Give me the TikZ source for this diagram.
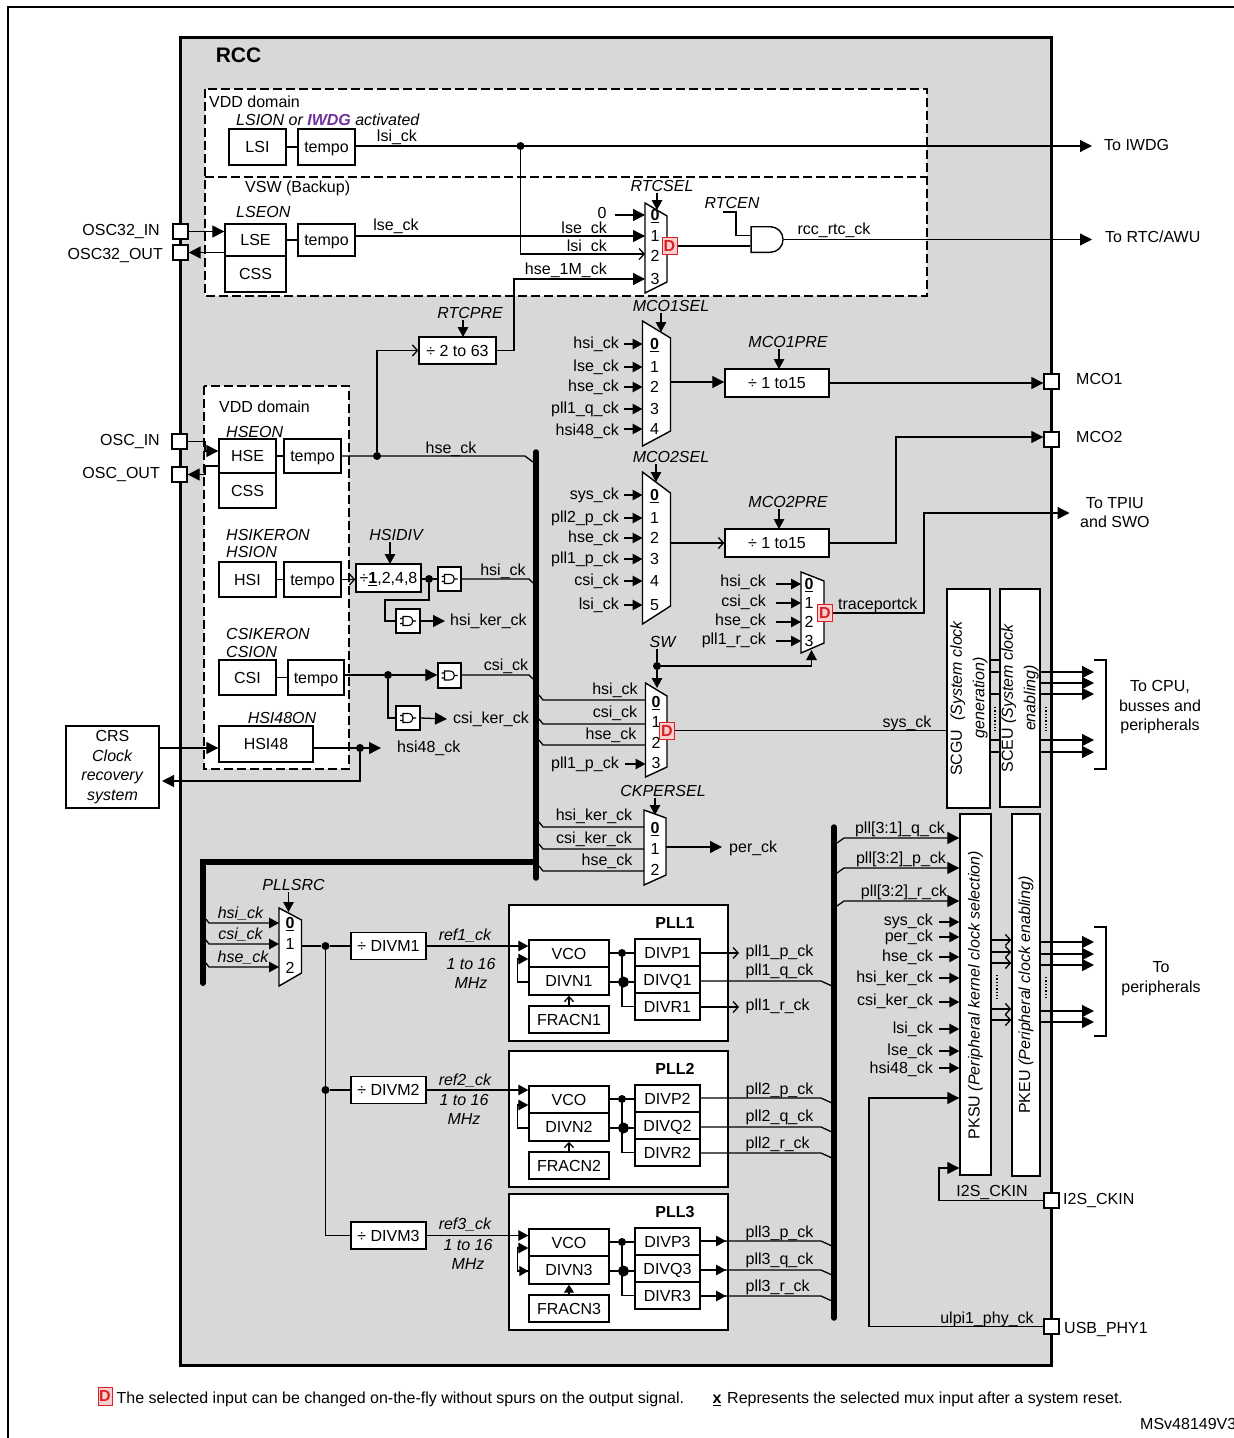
\documentclass[tikz,border=0pt]{standalone}
\usepackage{fontspec}
\setmainfont{Liberation Sans}
\usetikzlibrary{arrows.meta,shapes.gates.logic.US}
\definecolor{rccgray}{HTML}{D8D8D8}
\definecolor{iwdgpurple}{HTML}{7030A0}
\definecolor{dred}{HTML}{D92027}
\definecolor{dpink}{HTML}{F8CFCF}
\newcommand{\lblfont}{\fontsize{16}{19.5}\selectfont}
\tikzset{
	wire/.style={line width=1.3pt},
	arr/.style={wire,-{Triangle[length=12pt,width=12pt]}},
	arrs/.style={wire,-{Triangle[length=10pt,width=10.5pt]}},
	barb/.style={wire,-{Straight Barb[length=5pt,width=11pt]}},
	lbl/.style={inner sep=0pt,font=\lblfont,text height=12.5pt,text depth=1.5pt},
	sel/.style={lbl,font=\lblfont\itshape},
	txt/.style={inner sep=0pt,font=\lblfont,align=center},
	blk/.style={draw,fill=white,line width=1.4pt,inner sep=0pt,font=\lblfont,text height=12.5pt,text depth=1.5pt},
	muxline/.style={draw,fill=white,line width=1.4pt},
	hold/.style={inner sep=0pt,outer sep=0pt},
	dot/.style={circle,fill=black,inner sep=0pt,minimum size=8pt},
	bigdot/.style={circle,fill=black,inner sep=0pt,minimum size=11pt},
	vddbox/.style={fill=white,line width=1.4pt,draw,dash pattern=on 9pt off 4pt},
	bus/.style={line width=5.5pt,line cap=round},
	dmark/.style={draw=dred,fill=dpink,text=dred,line width=1pt,inner sep=0pt,minimum width=15pt,minimum height=17pt,font=\lblfont\bfseries},
}
\newcommand{\blk}[6]{%
	\pgfmathsetmacro\blkw{(#4)-(#2)}\pgfmathsetmacro\blkh{(#5)-(#3)}%
	\node[blk,minimum width=\blkw pt,minimum height=\blkh pt] (#1) at ({(#2+#4)/2},{(#3+#5)/2}) {#6};}
\newcommand{\muxshape}[7]{%
	\draw[muxline] (#2,#4) -- (#3,#5) -- (#3,#6) -- (#2,#7) -- cycle;
	\pgfmathsetmacro\blkw{#3-#2}\pgfmathsetmacro\blkh{#7-#4}%
	\node[hold,minimum width=\blkw pt,minimum height=\blkh pt] (#1) at ({(#2+#3)/2},{(#4+#7)/2}) {};}
\newcommand{\muxnum}[1]{\ifnum#1=0 \underline{\textbf{0}}\else#1\fi}
% name, label right edge, stub start, digit x, list of text/wire y/label y
\newcommand{\muxfan}[5]{%
	\foreach \lab/\y/\ly [count=\i from 0] in {#5}{
		\node[lbl,anchor=east] (#1-t\i) at (#2,\ly) {\lab};
		\coordinate (#1-s\i) at (#3,\y);
		\draw[arrs] (#1-s\i) -- (#1.west |- #1-s\i);
		\node[lbl] (#1-n\i) at (#4,\y) {\muxnum{\i}};
	}}
\newcommand{\gatebox}[5]{%
	\blk{#1}{#2}{#3}{#4}{#5}{}
	\draw[line width=1.1pt,shift={(#1)}] (-5,-4.5) -- (0,-4.5) .. controls (6.5,-4.5) and (6.5,4.5) .. (0,4.5) -- (-5,4.5) -- cycle
		(-8,-2.5) -- (-5,-2.5) (-8,2.5) -- (-5,2.5) (5,0) -- (8,0);}
\begin{document}
\begin{tikzpicture}[x=1pt,y=-1pt]
	\useasboundingbox (0,0) rectangle (1234,1438);
	\fill[white] (0,0) rectangle (1234,1438);
	\draw[line width=2pt] (7.5,1438) -- (7.5,7) -- (1234,7);
	\draw[fill=rccgray,line width=3pt] (180,37) rectangle (1051.5,1365);
	\node[hold,font=\fontsize{21}{24}\selectfont\bfseries] (rcc) at (238.5,55) {RCC};

	% domains
	\draw[vddbox] (205,89) rectangle (927,296);
	\draw[wire,dash pattern=on 9pt off 4pt] (205,177) -- (927,177);
	\draw[vddbox] (204,386) rectangle (349,769);
	\node[lbl,anchor=west] (vdda) at (209,102) {VDD domain};
	\node[sel,anchor=west] (lsion) at (236,120) {LSION or \textcolor{iwdgpurple}{\textbf{IWDG}} activated};
	\node[lbl,anchor=west] (vsw) at (245,187) {VSW (Backup)};
	\node[sel,anchor=west] (lseon) at (236,212) {LSEON};
	\node[lbl,anchor=west] (vddb) at (219,407) {VDD domain};
	\foreach \n/\lab/\y in {hseon/HSEON/432,hsiker/HSIKERON/535,hsion/HSION/552,csiker/CSIKERON/634,csion/CSION/652}
		\node[sel,anchor=west] (\n) at (226,\y) {\lab};
	\node[sel] (hsi48on) at (282,718) {HSI48ON};

	% oscillators
	\blk{lsi}{229}{129}{286}{165}{LSI}
	\blk{lsitempo}{298}{129}{355}{165}{tempo}
	\blk{lse}{225}{224}{286}{256}{LSE}
	\blk{css32}{225}{256}{286}{292}{CSS}
	\blk{lsetempo}{298}{224}{355}{256}{tempo}
	\blk{hse}{219}{439}{276}{473}{HSE}
	\blk{css}{219}{473}{276}{508}{CSS}
	\blk{hsetempo}{284}{439}{341}{473}{tempo}
	\blk{hsi}{219}{562}{276}{597}{HSI}
	\blk{hsitempo}{284}{562}{341}{597}{tempo}
	\blk{csi}{219}{660}{276}{695}{CSI}
	\blk{csitempo}{288}{660}{344}{695}{tempo}
	\blk{hsi48}{219}{726}{313}{762}{HSI48}
	\blk{crs}{66}{726}{159}{808}{}
	\node[txt] (crst) at (crs) {CRS\\\textit{Clock}\\\textit{recovery}\\\textit{system}};
	\foreach \a/\b in {lsi/lsitempo,lse/lsetempo,hse/hsetempo,hsi/hsitempo,csi/csitempo}
		\draw[wire] (\a.east) -- (\b.west);

	% pads
	\foreach \n/\lab/\x/\y/\lx/\ly/\an in {
		osca/OSC32\_IN/173/224/160/230/east,oscb/OSC32\_OUT/173/245/163/254/east,
		oscc/OSC\_IN/172/434/160/440/east,oscd/OSC\_OUT/172/467/160/473/east,
		mcoa/MCO1/1044/374/1076/379/west,mcob/MCO2/1044/432/1076/437/west,
		i2s/I2S\_CKIN/1044/1193/1063/1199/west,usb/USB\_PHY1/1044/1319/1064/1328/west}{
		\blk{\n-p}{\x}{\y}{\x+15}{\y+15}{}
		\node[lbl,anchor=\an] (\n-t) at (\lx,\ly) {\lab};
	}
	\draw[arr] (osca-p.east) -- (lse.west |- osca-p.east);
	\draw[arr] (lse.west |- oscb-p.east) -- (oscb-p.east);
	\coordinate (osc-j) at (205,451);
	\coordinate (osc-k) at (205,466);
	\draw[arr] (oscc-p.east) -| (osc-j) -- (hse.west |- osc-j);
	\draw[arr] (hse.west |- osc-k) -- (osc-k) |- (oscd-p.east);

	% rtc mux
	\muxshape{rtcmux}{645}{667}{203}{216}{282}{293}
	\foreach \y [count=\i from 0] in {215,236,256,279}
		\node[lbl] (rtcmux-n\i) at (655,\y) {\muxnum{\i}};
	\node[dmark] (rtcd) at (669.5,246) {D};
	\node[lbl] (rtc0) at (602,213) {0};
	\draw[arr] (rtc0.east) ++(8,2) -- (rtcmux.west |- rtcmux-n0);
	\node[lbl,anchor=east] (rtc1) at (607,228) {lse\_ck};
	\node[lbl,anchor=east] (rtc2) at (607,246) {lsi\_ck};
	\node[lbl,anchor=east] (rtc3) at (607,269) {hse\_1M\_ck};
	\node[lbl] (lsit) at (397,136) {lsi\_ck};
	\node[lbl] (lset) at (396,225) {lse\_ck};
	\node[hold] (lsidot) at (520.5,146) {};
	\coordinate (iwdg) at (1092,146);
	\coordinate (rtcin1) at (620,236);
	\coordinate (rtcin2) at (620,254);
	\coordinate (rtcin3) at (620,279);
	\draw[arr] (lsitempo.east |- iwdg) -- (iwdg);
	\node[dot] at (lsidot) {};
	\node[lbl,anchor=west] (iwdgt) at (1104,145) {To IWDG};
	\draw[arr] (lsetempo.east |- rtcin1) -- (rtcmux.west |- rtcin1);
	\draw[barb] (lsidot) |- (rtcmux.west |- rtcin2);

	\node[and gate US,draw,fill=white,logic gate inputs=nn,line width=1.4pt,inner sep=0pt,minimum width=32pt,minimum height=25pt] (rtcand) at (766,239.5) {};
	\coordinate (rtcout) at (1092,239.5);
	\coordinate (rtcenj) at (736,212);
	\node[sel] (rtcen) at (732,203) {RTCEN};
	\draw[wire] (rtcd.east) -- (rtcand.west |- rtcd.east);
	\draw[wire] (rtcenj) ++(-13,0) -- (rtcenj) |- (rtcand.input 1 -| rtcand.west);
	\draw[arr] (rtcand.east) -- (rtcout);
	\node[lbl] (rtcck) at (834,229) {rcc\_rtc\_ck};
	\node[lbl,anchor=west] (rtcawu) at (1105,237) {To RTC/AWU};

	% selectors
	\foreach \n/\lab/\x/\y/\ax/\ay in {
		rtcsel/RTCSEL/662/186/657/210,rtcpre/RTCPRE/470/313/463/337,
		mcoasel/MCO1SEL/671/306/661/332,mcoapre/MCO1PRE/788/342/779/369,
		mcobsel/MCO2SEL/671/457/656/482,mcobpre/MCO2PRE/788/502/779/529,
		hsidiv/HSIDIV/396/535/390/564,persel/CKPERSEL/663/791/655/815,
		pllsel/PLLSRC/293.5/885/288.5/912}{
		\node[sel] (\n) at (\x,\y) {\lab};
		\coordinate (\n-in) at (\ax,\ay);
		\draw[arrs] (\n-in |- \n.south) -- (\n-in);
	}

	% prescalers
	\blk{rtcdiv}{419}{337}{496}{364}{÷ 2 to 63}
	\blk{mcoadiv}{725}{369}{829}{397}{÷ 1 to15}
	\blk{mcobdiv}{725}{529}{829}{557}{÷ 1 to15}
	\blk{hsidv}{356}{564}{421}{592}{÷\underline{\textbf{1}},2,4,8}
	\node[dot] (hsedot) at (377,456) {};
	\draw[barb] (hsedot) |- (rtcdiv.west);
	\coordinate (rtcj) at (514,279);
	\draw[arr] (rtcdiv.east) -| (rtcj) -- (rtcmux.west |- rtcj);

	% mco muxes
	\muxshape{mcoamux}{642.5}{670.5}{321}{338}{431}{446}
	\muxfan{mcoamux}{619}{624}{654.5}{hsi\_ck/344/343,lse\_ck/367/366,hse\_ck/387/386,pll1\_q\_ck/409/408,hsi48\_ck/429/430}
	\muxshape{mcobmux}{642.5}{670.5}{472}{493}{606}{624}
	\muxfan{mcobmux}{619}{624}{654.5}{sys\_ck/495/494,pll2\_p\_ck/518/517,hse\_ck/538/537,pll1\_p\_ck/559/558,csi\_ck/581/580,lsi\_ck/605/604}
	\coordinate (mcoain) at (690,382);
	\coordinate (mcobin) at (690,543);
	\draw[arr] (mcoamux.east |- mcoain) -- (mcoadiv.west |- mcoain);
	\draw[barb] (mcobmux.east |- mcobin) -- (mcobdiv.west |- mcobin);
	\draw[arr] (mcoadiv.east) -- (mcoa-p.west |- mcoadiv.east);
	\coordinate (mcobj) at (896,437);
	\draw[arr] (mcobdiv.east) -| (mcobj) -- (mcob-p.west |- mcobj);

	% trace mux
	\muxshape{trcmux}{801}{824}{572}{581}{643}{653}
	\muxfan{trcmux}{766}{776}{809}{hsi\_ck/584/581,csi\_ck/603/601,hse\_ck/622/620,pll1\_r\_ck/641/639}
	\node[dmark] (trcd) at (825,613) {D};
	\node[lbl,anchor=west] (trct) at (838,604) {traceportck};
	\coordinate (tpiuj) at (924,513);
	\coordinate (tpiu) at (1069.5,513);
	\draw[arr] (trcd.east) -| (tpiuj) -- (tpiu);
	\node[txt,anchor=west] (tpiut) at (1080,512.5) {To TPIU\\and SWO};

	% sys mux
	\muxshape{sysmux}{645.5}{667}{683}{696}{767}{777}
	\foreach \y [count=\i from 0] in {702,722,743,763}
		\node[lbl] (sysmux-n\i) at (656,\y) {\muxnum{\i}};
	\node[dmark] (sysd) at (667,730.5) {D};
	\foreach \n/\lab/\y/\lx/\ly in {a/hsi\_ck/700/615/689,b/csi\_ck/724/615/712,c/hse\_ck/745/611/734}{
		\node[lbl] (sys-t\n) at (\lx,\ly) {\lab};
		\coordinate (sys-b\n) at (543,\y);
		\draw[wire] (sys-b\n) ++(-4,-5) -- (sys-b\n) -- (sysmux.west |- sys-b\n);
	}
	\node[lbl,anchor=east] (sys-td) at (619,763) {pll1\_p\_ck};
	\coordinate (sys-sd) at (625,764);
	\draw[arrs] (sys-sd) -- (sysmux.west |- sys-sd);
	\node[sel] (sw) at (662.5,642) {SW};
	\node[dot] (swdot) at (657,666) {};
	\coordinate (swin) at (657,688);
	\coordinate (swtr) at (811.5,650);
	\draw[wire] (swdot |- sw.south) -- (swdot);
	\draw[arrs] (swdot) -- (swin);
	\draw[arrs] (swdot) -| (swtr);

	% per mux
	\muxshape{permux}{644}{666}{810}{818}{875}{885}
	\foreach \y [count=\i from 0] in {828,849,870}
		\node[lbl] (permux-n\i) at (655,\y) {\muxnum{\i}};
	\foreach \n/\lab/\y/\lx/\ly in {a/hsi\_ker\_ck/827/594/815,b/csi\_ker\_ck/849/594/838,c/hse\_ck/871/607/860}{
		\node[lbl] (per-t\n) at (\lx,\ly) {\lab};
		\coordinate (per-b\n) at (543,\y);
		\draw[wire] (per-b\n) ++(-4,-5) -- (per-b\n) -- (permux.west |- per-b\n);
	}
	\node[lbl,anchor=west] (perck) at (729,847) {per\_ck};
	\coordinate (perout) at (722,847);
	\draw[arr] (permux.east |- perout) -- (perout);

	% left bus
	\draw[bus] (536,452) -- (536,878);
	\draw[bus,line width=6pt,line cap=butt] (536,862) -- (203,862) -- (203,983);
	\fill (203,983) circle (3pt);
	\coordinate (hseb) at (525,456);
	\coordinate (hsib) at (529,579);
	\coordinate (csib) at (529,675);
	\draw[wire] (hsetempo.east |- hseb) -- (hseb) -- ++(8,6);
	\node[lbl] (hset) at (451,448) {hse\_ck};

	% hsi, csi gating
	\draw[barb] (hsitempo.east) -- (hsidv.west |- hsitempo.east);
	\gatebox{hsig}{438}{567}{461}{591}
	\gatebox{hsik}{396}{609}{420}{633}
	\node[dot] (hsidot) at (429,579) {};
	\coordinate (hsij) at (385,600);
	\draw[wire] (hsidv.east |- hsidot) -- (hsidot) -- (hsig.west |- hsidot);
	\draw[wire] (hsidot) |- (hsij) |- (hsik.west);
	\draw[wire] (hsig.east |- hsib) -- (hsib) -- ++(4,4);
	\node[lbl] (hsit) at (503,570) {hsi\_ck};
	\node[lbl,anchor=west] (hsikt) at (450,620) {hsi\_ker\_ck};
	\coordinate (hsikout) at (445,621);
	\draw[arr] (hsik.east) -- (hsikout);

	\gatebox{csig}{438}{663}{461}{688}
	\gatebox{csik}{396}{706}{420}{730}
	\node[dot] (csidot) at (388,675) {};
	\draw[wire] (csitempo.east |- csidot) -- (csidot);
	\draw[arr] (csidot) -- (csig.west |- csidot);
	\draw[wire] (csidot) |- (csik.west);
	\draw[wire] (csig.east |- csib) -- (csib) -- ++(4,4);
	\node[lbl] (csit) at (506,665) {csi\_ck};
	\node[lbl,anchor=west] (csikt) at (453,718) {csi\_ker\_ck};
	\coordinate (csikout) at (447,719);
	\draw[arr] (csik.east) -- (csikout);

	\node[dot] (h48dot) at (360,748) {};
	\coordinate (h48out) at (381,748);
	\coordinate (crsback) at (162,781);
	\node[lbl,anchor=west] (h48t) at (397,747) {hsi48\_ck};
	\draw[arr] (crs.east |- h48dot) -- (hsi48.west |- h48dot);
	\draw[arr] (hsi48.east |- h48dot) -- (h48out);
	\draw[arr] (h48dot) |- (crsback);

	% pll source
	\muxshape{pllmux}{279}{301.5}{908}{920}{973}{986}
	\foreach \y/\ny [count=\i from 0] in {923/923,944/944,967/968}
		\node[lbl] (pllmux-n\i) at (290,\ny) {\muxnum{\i}};
	\foreach \n/\lab/\y/\lx/\ly in {a/hsi\_ck/923/240.5/913,b/csi\_ck/944/240.5/934,c/hse\_ck/967/243/957}{
		\node[sel] (src-t\n) at (\lx,\ly) {\lab};
		\coordinate (src-b\n) at (209,\y);
		\draw[arrs] (src-b\n) ++(-3,-4) -- (src-b\n) -- (pllmux.west |- src-b\n);
	}
	\node[dot] (srcdot) at (325.5,946) {};
	\node[dot] (srcdotb) at (325.5,1090) {};
	\draw[wire] (pllmux.east |- srcdot) -- (srcdot);

	% plls
	\foreach \k/\T/\my in {1/905/946,2/1051/1090,3/1194/1235.5}{
		\blk{pll\k}{509}{\T}{728}{\T+136}{}
		\node[hold,font=\lblfont\bfseries] (pll\k-t) at (675,\T+18) {PLL\k};
		\blk{divm\k}{351}{\my-13.5}{426}{\my+13.5}{÷ DIVM\k}
		\blk{vco\k}{529}{\T+35}{609}{\T+62}{VCO}
		\blk{divn\k}{529}{\T+62}{609}{\T+90}{DIVN\k}
		\blk{frac\k}{529}{\T+101}{609}{\T+128}{FRACN\k}
		\blk{pll\k-divp}{635}{\T+34}{700}{\T+61}{DIVP\k}
		\blk{pll\k-divq}{635}{\T+61}{700}{\T+88}{DIVQ\k}
		\blk{pll\k-divr}{635}{\T+88}{700}{\T+115}{DIVR\k}
		\node[dot] (pll\k-da) at (622,\T+48) {};
		\node[bigdot] (pll\k-db) at (623.5,\T+77) {};
		\coordinate (pll\k-fb) at (517.5,\T+54);
		\draw[wire] (vco\k.east |- pll\k-da) -- (pll\k-da) -- (pll\k-divp.west |- pll\k-da);
		\draw[wire] (divn\k.east |- pll\k-db) -- (pll\k-db) -- (pll\k-divq.west |- pll\k-db);
		\draw[wire] (pll\k-da) |- (pll\k-divr.west);
		\draw[arrs] (divn\k.west |- pll\k-db) -- (pll\k-fb |- pll\k-db) -- (pll\k-fb) -- (vco\k.west |- pll\k-fb);
		\draw[arrs] (divm\k.east) -- (vco\k.west |- divm\k.east);
	}
	\draw[wire] (srcdot) -- (srcdotb) |- (divm3.west);
	\draw[wire] (srcdot) -- (divm1.west);
	\draw[wire] (srcdotb) -- (divm2.west);
	\foreach \k/\cx/\ly/\rx/\ry in {1/465/935/471/964,2/465/1080/464/1100,3/465/1224/468/1245}{
		\node[sel] (ref\k) at (\cx,\ly) {ref\k\_ck};
		\node[txt,font=\lblfont\itshape] (mhz\k) at (\rx,\ry+9.5) {1 to 16\\MHz};
	}
	\foreach \k in {1,2}
		\draw[wire,-{Straight Barb[length=5pt,width=9pt]}] (frac\k.north) -- (divn\k.south);
	\draw[wire,-{Triangle[length=8pt,width=10pt]}] (frac3.north) -- (divn3.south);
	\draw[wire,-{Triangle[length=9pt,width=10pt]}] (pll3-fb |- pll3-db) -- (divn3.west |- pll3-db);

	% pll outputs
	\coordinate (p1tip) at (739,953);
	\coordinate (r1tip) at (739,1007);
	\coordinate (q1b) at (821,981);
	\draw[barb] (pll1-divp.east |- p1tip) -- (p1tip);
	\draw[barb] (pll1-divr.east |- r1tip) -- (r1tip);
	\draw[wire] (pll1-divq.east |- q1b) -- (q1b) -- ++(11,5);
	\node[lbl,anchor=west] (p1t) at (745.5,951) {pll1\_p\_ck};
	\node[lbl,anchor=west] (q1t) at (745.5,970) {pll1\_q\_ck};
	\node[lbl,anchor=west] (r1t) at (745.5,1005) {pll1\_r\_ck};
	\foreach \k/\T in {2/1051,3/1194}
		\foreach \q/\dy/\ly in {p/47/37.5,q/76/65,r/102/91.5}{
			\coordinate (\k\q b) at (821,\T+\dy);
			\draw[wire] (pll\k-div\q.east |- \k\q b) -- (\k\q b) -- ++(11,5);
			\node[lbl,anchor=west] (\k\q t) at (745.5,\T+\ly) {pll\k\_\q\_ck};
		}
	\foreach \q/\y in {p/1241,q/1270,r/1296}{
		\coordinate (3\q a) at (726,\y);
		\draw[arrs] (pll3-div\q.east |- 3\q a) -- (3\q a);
	}
	\draw[bus] (834,827) -- (834,1318);

	% system clock units
	\blk{scgu}{947}{589}{990}{808}{}
	\blk{sceu}{1000}{589}{1040}{807}{}
	\node[txt,rotate=90] (scgut) at (969,698) {SCGU\ \ \textit{(System clock}\\[3pt]\textit{generation)}};
	\node[txt,rotate=90] (sceut) at (1020,698) {SCEU\ \textit{(System clock}\\[3pt]\textit{enabling)}};
	\node[lbl] (sysck) at (907,722) {sys\_ck};
	\draw[wire] (sysd.east) -- (scgu.west |- sysd.east);
	\foreach \y in {660,672,694,740,752}{
		\coordinate (su-\y) at (995,\y);
		\draw[wire] (scgu.east |- su-\y) -- (sceu.west |- su-\y);
	}
	\foreach \y in {672,683,694,740,752}{
		\coordinate (cpu-\y) at (1094,\y);
		\draw[arr] (sceu.east |- cpu-\y) -- (cpu-\y);
	}
	\draw[dotted,wire] (995,707) -- (995,732);
	\draw[dotted,wire] (1046,707) -- (1046,732);
	\draw[wire] (1094,660) -- (1106,660) -- (1106,769) -- (1094,769);
	\node[txt] (cput) at (1160,707.5) {To CPU,\\busses and\\peripherals};

	% peripheral units
	\blk{pksu}{960}{814}{991}{1175}{}
	\blk{pkeu}{1012}{814}{1040}{1176}{}
	\node[txt,rotate=90] (pksut) at (975.5,995) {PKSU \textit{(Peripheral kernel clock selection)}};
	\node[txt,rotate=90] (pkeut) at (1026,995) {PKEU \textit{(Peripheral clock enabling)}};
	\foreach \lab/\y/\cx/\ly in {pll[3:1]\_q\_ck/838/900/828,pll[3:2]\_p\_ck/868/901/858,pll[3:2]\_r\_ck/901/904/891}{
		\coordinate (pk-b\y) at (844,\y);
		\draw[arr] (pk-b\y) ++(-7,5) -- (pk-b\y) -- (pksu.west |- pk-b\y);
		\node[lbl] (pk-t\y) at (\cx,\ly) {\lab};
	}
	\foreach \lab/\y/\ly in {sys\_ck/922/920,per\_ck/937/936,hse\_ck/957/956,hsi\_ker\_ck/978/977,csi\_ker\_ck/1002/1000,lsi\_ck/1029/1028,lse\_ck/1051/1050,hsi48\_ck/1068/1068}{
		\node[lbl,anchor=east] (pk-t\y) at (933,\ly) {\lab};
		\coordinate (pk-s\y) at (939,\y);
		\draw[arrs] (pk-s\y) -- (pksu.west |- pk-s\y);
	}
	\foreach \y in {940,952,963,1009,1020}{
		\coordinate (pp-\y) at (1000,\y);
		\draw[wire,-{Straight Barb[length=5pt,width=11pt]}] (pksu.east |- pp-\y) -- (pkeu.west |- pp-\y);
	}
	\foreach \y in {942,954,965,1011,1022}{
		\coordinate (per-\y) at (1094,\y);
		\draw[arr] (pkeu.east |- per-\y) -- (per-\y);
	}
	\draw[dotted,wire] (997,975) -- (997,1000);
	\draw[dotted,wire] (1046,977) -- (1046,1000);
	\draw[wire] (1094,927) -- (1106,927) -- (1106,1036) -- (1094,1036);
	\node[txt] (pert) at (1161,978.5) {To\\peripherals};

	% external clocks
	\coordinate (i2sj) at (939,1168);
	\coordinate (usbj) at (869,1098);
	\draw[arr] (i2s-p.west) -| (i2sj) -- (pksu.west |- i2sj);
	\draw[arr] (usb-p.west) -| (usbj) -- (pksu.west |- usbj);
	\node[lbl] (i2st) at (992,1191) {I2S\_CKIN};
	\node[lbl] (usbt) at (987,1318) {ulpi1\_phy\_ck};

	% legend
	\node[dmark,minimum width=14pt,minimum height=18pt] (legd) at (105,1396) {D};
	\node[lbl,anchor=west] (legdt) at (116.5,1398) {The selected input can be changed on-the-fly without spurs on the output signal.};
	\node[lbl] (legx) at (717,1398) {\underline{\textbf{x}}};
	\node[lbl,anchor=west] (legxt) at (727,1398) {Represents the selected mux input after a system reset.};
	\node[lbl,anchor=west] (msv) at (1140,1424) {MSv48149V3};
\end{tikzpicture}
\end{document}
